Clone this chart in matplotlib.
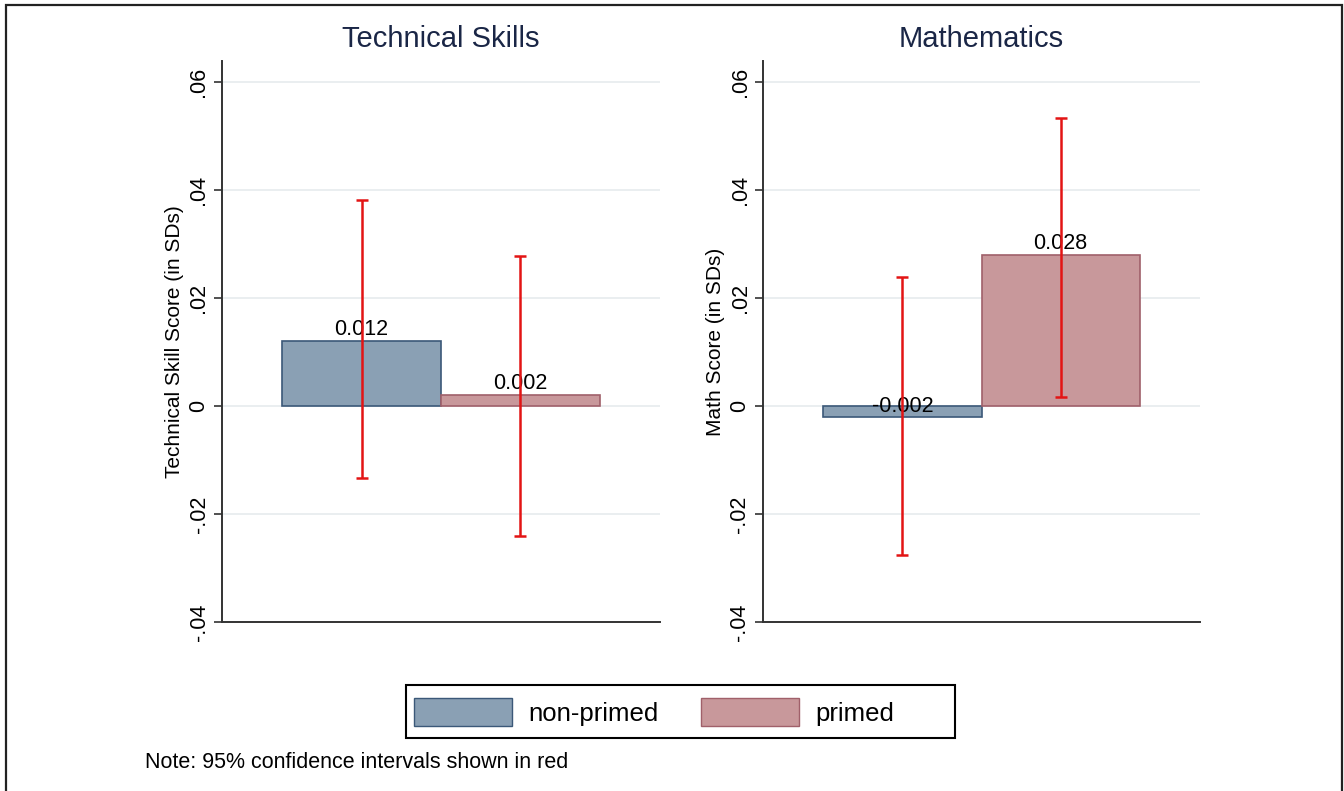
import matplotlib.pyplot as plt
from matplotlib.patches import Rectangle

plt.rcParams['font.family'] = ['Liberation Sans', 'DejaVu Sans']

groups = ["non-primed", "primed"]
panels = ["Technical Skills", "Mathematics"]
ylabels = ["Technical Skill Score (in SDs)", "Math Score (in SDs)"]

tech_means = [0.012, 0.002]
tech_lo = [-0.0133, -0.0241]
tech_hi = [0.0381, 0.0278]

math_means = [-0.002, 0.028]
math_lo = [-0.0276, 0.0017]
math_hi = [0.0239, 0.0533]

yticks = [-0.04, -0.02, 0, 0.02, 0.04, 0.06]
yticklabels = ["-.04", "-.02", "0", ".02", ".04", ".06"]

fill_colors = ["#8aa0b4", "#c8989b"]
edge_colors = ["#3b5878", "#a0606a"]
ci_color = "#e31414"

W, H = 1344, 791
fig = plt.figure(figsize=(W / 100, H / 100), dpi=100)

# outer frame around the whole graph
fig.patches.append(Rectangle((6 / W, -0.05), (1342 - 6) / W, 1.05 - 5 / H,
                             transform=fig.transFigure, fill=False,
                             edgecolor="#222222", linewidth=1.6))

ax_left = [222, 763]
ax_width = [438, 437]
ax_top, ax_bottom = 61, 622

data = [(tech_means, tech_lo, tech_hi), (math_means, math_lo, math_hi)]

for k in range(2):
    ax = fig.add_axes([ax_left[k] / W, (H - ax_bottom) / H,
                       ax_width[k] / W, (ax_bottom - ax_top) / H])
    means, lo, hi = data[k]
    xs = [0, 1]
    for i in range(2):
        ax.bar(xs[i], means[i], width=1.0, color=fill_colors[i],
               edgecolor=edge_colors[i], linewidth=1.2, zorder=2)
    err_low = [means[i] - lo[i] for i in range(2)]
    err_high = [hi[i] - means[i] for i in range(2)]
    ax.errorbar(xs, means, yerr=[err_low, err_high], fmt="none",
                ecolor=ci_color, elinewidth=1.8, capsize=4.5,
                capthick=1.8, zorder=4)
    for i in range(2):
        if means[i] > 0:
            ax.text(xs[i], means[i] + 0.0002, f"{means[i]:.3f}",
                    ha="center", va="bottom", fontsize=15.5, zorder=3)
        else:
            ax.text(xs[i], 0, f"{means[i]:.3f}",
                    ha="center", va="center", fontsize=15.5, zorder=3)

    ax.set_xlim(-0.88, 1.88)
    ax.set_ylim(-0.04, 0.0639)
    ax.set_xticks([])
    ax.set_yticks(yticks)
    ax.set_yticklabels(yticklabels, rotation=90, va="center", fontsize=15.5)
    ax.tick_params(axis="y", length=6, width=1.2, color="#333333", pad=3)
    ax.grid(axis="y", color="#eaeef0", linewidth=1.4, zorder=0)
    ax.set_axisbelow(True)
    for s in ["top", "right"]:
        ax.spines[s].set_visible(False)
    for s in ["left", "bottom"]:
        ax.spines[s].set_color("#333333")
        ax.spines[s].set_linewidth(1.4)
    ax.set_ylabel(ylabels[k], fontsize=15, labelpad=3)
    ax.set_title(panels[k], fontsize=21, color="#1a2646", pad=10)

# legend, with its box drawn separately (Stata leaves wide right padding)
handles = [Rectangle((0, 0), 1, 1, facecolor=fill_colors[i],
                     edgecolor=edge_colors[i], linewidth=1.0) for i in range(2)]
fig.legend(handles, groups, loc="center left",
           bbox_to_anchor=(414 / W, 1 - 712 / H),
           ncol=2, fontsize=18.5, frameon=False,
           handlelength=3.8, handleheight=1.3, handletextpad=0.65,
           columnspacing=1.65, borderpad=0, borderaxespad=0)
fig.patches.append(Rectangle((406 / W, 1 - 738 / H), (955 - 406) / W,
                             (738 - 685) / H, transform=fig.transFigure,
                             fill=False, edgecolor="black", linewidth=1.5))

fig.text(145 / W, 1 - 762 / H, "Note: 95% confidence intervals shown in red",
         fontsize=15.5, va="center", ha="left")

fig.savefig("out.png", dpi=100)
